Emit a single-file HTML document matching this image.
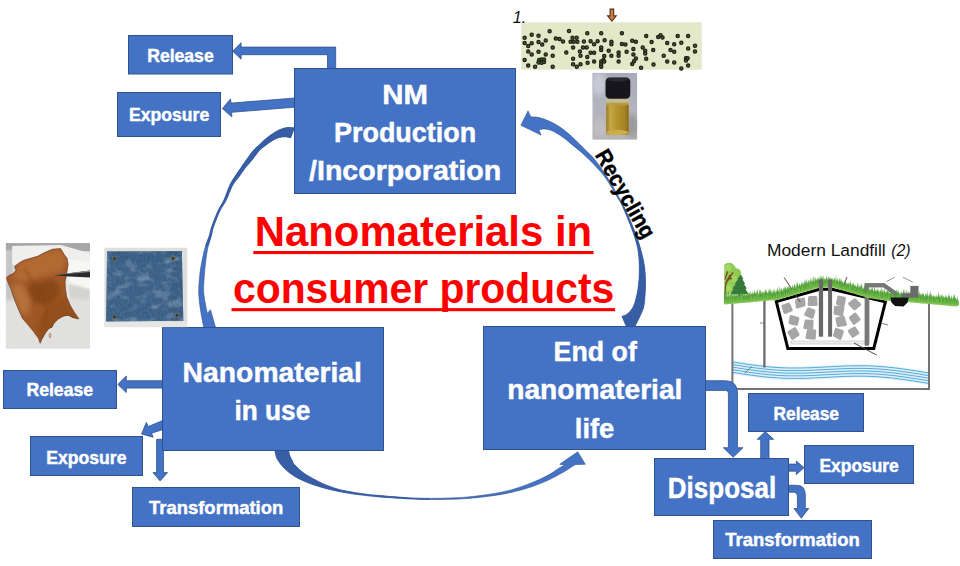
<!DOCTYPE html>
<html><head><meta charset="utf-8"><title>Nanomaterials in consumer products</title>
<style>
html,body{margin:0;padding:0;background:#fff;}
body{width:960px;height:566px;overflow:hidden;font-family:"Liberation Sans",sans-serif;}
svg{display:block;}
text{font-family:"Liberation Sans",sans-serif;}
.w{fill:#fff;font-weight:bold;stroke:#fff;stroke-width:0.45;}
.bx{fill:#4472C4;stroke:#2F528F;stroke-width:1;}
.ar{fill:#4472C4;stroke:#2F528F;stroke-width:0.8;stroke-linejoin:miter;}
</style></head><body>
<svg width="960" height="566" viewBox="0 0 960 566">
<defs>
<filter id="blur0" x="-2%" y="-5%" width="104%" height="110%"><feGaussianBlur stdDeviation="0.35"/></filter>
<filter id="blur1" x="-5%" y="-5%" width="110%" height="110%"><feGaussianBlur stdDeviation="0.6"/></filter>
<filter id="blur2" x="-5%" y="-5%" width="110%" height="110%"><feGaussianBlur stdDeviation="1.2"/></filter>
<filter id="blur3" x="-10%" y="-10%" width="120%" height="120%"><feGaussianBlur stdDeviation="2.5"/></filter>
</defs>
<rect width="960" height="566" fill="#fff"/>

<text x="767" y="255.6" font-size="16.8" fill="#111" textLength="118.7" lengthAdjust="spacingAndGlyphs">Modern Landfill</text>
<text x="891.2" y="255.6" font-size="16.8" font-style="italic" fill="#111" textLength="19.4" lengthAdjust="spacingAndGlyphs">(2)</text>
<g>
<polygon points="733.0,360.5 737.0,361.1 741.0,361.8 745.0,362.4 749.0,363.0 753.0,363.5 757.0,364.0 761.0,364.5 765.0,365.0 769.0,365.4 773.0,365.7 777.0,366.0 781.0,366.2 785.0,366.4 789.0,366.5 793.0,366.5 797.0,366.5 801.0,366.5 805.0,366.4 809.0,366.3 813.0,366.1 817.0,365.9 821.0,365.7 825.0,365.5 829.0,365.3 833.0,365.1 837.0,364.9 841.0,364.7 845.0,364.5 849.0,364.4 853.0,364.3 857.0,364.3 861.0,364.3 865.0,364.3 869.0,364.4 873.0,364.6 877.0,364.8 881.0,365.1 885.0,365.4 889.0,365.8 893.0,366.2 897.0,366.7 901.0,367.2 905.0,367.8 909.0,368.4 913.0,369.0 917.0,369.6 921.0,370.2 925.0,370.9 929.0,371.5 929.0,385.0 925.0,384.4 921.0,383.7 917.0,383.1 913.0,382.5 909.0,381.9 905.0,381.3 901.0,380.7 897.0,380.2 893.0,379.7 889.0,379.3 885.0,378.9 881.0,378.6 877.0,378.3 873.0,378.1 869.0,377.9 865.0,377.8 861.0,377.8 857.0,377.8 853.0,377.8 849.0,377.9 845.0,378.0 841.0,378.2 837.0,378.4 833.0,378.6 829.0,378.8 825.0,379.0 821.0,379.2 817.0,379.4 813.0,379.6 809.0,379.8 805.0,379.9 801.0,380.0 797.0,380.0 793.0,380.0 789.0,380.0 785.0,379.9 781.0,379.7 777.0,379.5 773.0,379.2 769.0,378.9 765.0,378.5 761.0,378.0 757.0,377.5 753.0,377.0 749.0,376.5 745.0,375.9 741.0,375.3 737.0,374.6 733.0,374.0" fill="#DDF0FA"/>
<polyline points="733.0,362.0 737.0,362.6 741.0,363.3 745.0,363.9 749.0,364.5 753.0,365.0 757.0,365.5 761.0,366.0 765.0,366.5 769.0,366.9 773.0,367.2 777.0,367.5 781.0,367.7 785.0,367.9 789.0,368.0 793.0,368.0 797.0,368.0 801.0,368.0 805.0,367.9 809.0,367.8 813.0,367.6 817.0,367.4 821.0,367.2 825.0,367.0 829.0,366.8 833.0,366.6 837.0,366.4 841.0,366.2 845.0,366.0 849.0,365.9 853.0,365.8 857.0,365.8 861.0,365.8 865.0,365.8 869.0,365.9 873.0,366.1 877.0,366.3 881.0,366.6 885.0,366.9 889.0,367.3 893.0,367.7 897.0,368.2 901.0,368.7 905.0,369.3 909.0,369.9 913.0,370.5 917.0,371.1 921.0,371.7 925.0,372.4 929.0,373.0" fill="none" stroke="#58ABDA" stroke-width="1"/>
<polyline points="733.0,364.6 737.0,365.2 741.0,365.9 745.0,366.5 749.0,367.1 753.0,367.6 757.0,368.1 761.0,368.6 765.0,369.1 769.0,369.5 773.0,369.8 777.0,370.1 781.0,370.3 785.0,370.5 789.0,370.6 793.0,370.6 797.0,370.6 801.0,370.6 805.0,370.5 809.0,370.4 813.0,370.2 817.0,370.0 821.0,369.8 825.0,369.6 829.0,369.4 833.0,369.2 837.0,369.0 841.0,368.8 845.0,368.6 849.0,368.5 853.0,368.4 857.0,368.4 861.0,368.4 865.0,368.4 869.0,368.5 873.0,368.7 877.0,368.9 881.0,369.2 885.0,369.5 889.0,369.9 893.0,370.3 897.0,370.8 901.0,371.3 905.0,371.9 909.0,372.5 913.0,373.1 917.0,373.7 921.0,374.3 925.0,375.0 929.0,375.6" fill="none" stroke="#58ABDA" stroke-width="1"/>
<polyline points="733.0,367.2 737.0,367.8 741.0,368.5 745.0,369.1 749.0,369.7 753.0,370.2 757.0,370.7 761.0,371.2 765.0,371.7 769.0,372.1 773.0,372.4 777.0,372.7 781.0,372.9 785.0,373.1 789.0,373.2 793.0,373.2 797.0,373.2 801.0,373.2 805.0,373.1 809.0,373.0 813.0,372.8 817.0,372.6 821.0,372.4 825.0,372.2 829.0,372.0 833.0,371.8 837.0,371.6 841.0,371.4 845.0,371.2 849.0,371.1 853.0,371.0 857.0,371.0 861.0,371.0 865.0,371.0 869.0,371.1 873.0,371.3 877.0,371.5 881.0,371.8 885.0,372.1 889.0,372.5 893.0,372.9 897.0,373.4 901.0,373.9 905.0,374.5 909.0,375.1 913.0,375.7 917.0,376.3 921.0,376.9 925.0,377.6 929.0,378.2" fill="none" stroke="#58ABDA" stroke-width="1"/>
<polyline points="733.0,369.8 737.0,370.4 741.0,371.1 745.0,371.7 749.0,372.3 753.0,372.8 757.0,373.3 761.0,373.8 765.0,374.3 769.0,374.7 773.0,375.0 777.0,375.3 781.0,375.5 785.0,375.7 789.0,375.8 793.0,375.8 797.0,375.8 801.0,375.8 805.0,375.7 809.0,375.6 813.0,375.4 817.0,375.2 821.0,375.0 825.0,374.8 829.0,374.6 833.0,374.4 837.0,374.2 841.0,374.0 845.0,373.8 849.0,373.7 853.0,373.6 857.0,373.6 861.0,373.6 865.0,373.6 869.0,373.7 873.0,373.9 877.0,374.1 881.0,374.4 885.0,374.7 889.0,375.1 893.0,375.5 897.0,376.0 901.0,376.5 905.0,377.1 909.0,377.7 913.0,378.3 917.0,378.9 921.0,379.5 925.0,380.2 929.0,380.8" fill="none" stroke="#58ABDA" stroke-width="1"/>
<polyline points="733.0,372.4 737.0,373.0 741.0,373.7 745.0,374.3 749.0,374.9 753.0,375.4 757.0,375.9 761.0,376.4 765.0,376.9 769.0,377.3 773.0,377.6 777.0,377.9 781.0,378.1 785.0,378.3 789.0,378.4 793.0,378.4 797.0,378.4 801.0,378.4 805.0,378.3 809.0,378.2 813.0,378.0 817.0,377.8 821.0,377.6 825.0,377.4 829.0,377.2 833.0,377.0 837.0,376.8 841.0,376.6 845.0,376.4 849.0,376.3 853.0,376.2 857.0,376.2 861.0,376.2 865.0,376.2 869.0,376.3 873.0,376.5 877.0,376.7 881.0,377.0 885.0,377.3 889.0,377.7 893.0,378.1 897.0,378.6 901.0,379.1 905.0,379.7 909.0,380.3 913.0,380.9 917.0,381.5 921.0,382.1 925.0,382.8 929.0,383.4" fill="none" stroke="#58ABDA" stroke-width="1"/>
<path d="M732.4 301 L732.4 389 L929 389 L929 301.5" fill="none" stroke="#747474" stroke-width="2"/>
<line x1="764.4" y1="299.5" x2="764.4" y2="367.5" stroke="#6A6A6A" stroke-width="2.3"/>
<line x1="760" y1="323" x2="764" y2="323" stroke="#6E6E6E" stroke-width="0.8"/>
<line x1="744.7" y1="373" x2="751.6" y2="366.7" stroke="#555" stroke-width="0.7"/>
<polygon points="776.3,301.6 819.5,289.3 832,289.3 885.4,301.8 873.8,348.4 787.8,348.4" fill="#fff" stroke="#000" stroke-width="3" stroke-linejoin="miter"/>
<path d="M869.5 300 L869.5 343" stroke="#BDBDBD" stroke-width="0.8" fill="none"/>
<rect x="791" y="341" width="78" height="3" fill="#EDEDED" stroke="#BDBDBD" stroke-width="0.6"/>
<polygon points="791.2,309.8 785.0,312.5 782.9,306.2 788.7,304.3" fill="#A6A6A6" stroke="#A6A6A6" stroke-width="3" stroke-linejoin="round"/>
<polygon points="804.0,305.1 797.3,307.1 796.5,300.7 803.6,299.0" fill="#A6A6A6" stroke="#A6A6A6" stroke-width="3" stroke-linejoin="round"/>
<polygon points="816.1,304.6 809.2,304.5 809.6,297.6 815.7,297.4" fill="#A6A6A6" stroke="#A6A6A6" stroke-width="3" stroke-linejoin="round"/>
<polygon points="812.1,317.3 805.6,314.4 808.6,309.0 813.9,311.0" fill="#A6A6A6" stroke="#A6A6A6" stroke-width="3" stroke-linejoin="round"/>
<polygon points="796.4,324.3 790.0,322.8 791.1,316.4 797.9,318.4" fill="#A6A6A6" stroke="#A6A6A6" stroke-width="3" stroke-linejoin="round"/>
<polygon points="811.7,328.6 804.8,327.4 806.1,321.1 812.1,321.3" fill="#A6A6A6" stroke="#A6A6A6" stroke-width="3" stroke-linejoin="round"/>
<polygon points="798.1,334.5 792.6,338.4 789.0,332.3 794.8,328.7" fill="#A6A6A6" stroke="#A6A6A6" stroke-width="3" stroke-linejoin="round"/>
<polygon points="814.2,338.3 807.0,337.5 808.3,330.8 814.8,331.0" fill="#A6A6A6" stroke="#A6A6A6" stroke-width="3" stroke-linejoin="round"/>
<polygon points="843.2,305.3 837.4,303.5 838.8,297.1 844.5,298.2" fill="#A6A6A6" stroke="#A6A6A6" stroke-width="3" stroke-linejoin="round"/>
<polygon points="859.7,304.6 854.4,308.8 849.6,303.7 854.9,299.7" fill="#A6A6A6" stroke="#A6A6A6" stroke-width="3" stroke-linejoin="round"/>
<polygon points="841.7,314.7 835.1,313.3 835.5,307.3 842.9,307.5" fill="#A6A6A6" stroke="#A6A6A6" stroke-width="3" stroke-linejoin="round"/>
<polygon points="859.1,319.4 854.0,323.4 850.4,317.7 855.1,314.2" fill="#A6A6A6" stroke="#A6A6A6" stroke-width="3" stroke-linejoin="round"/>
<polygon points="845.4,324.5 838.3,325.6 836.9,319.0 843.1,317.0" fill="#A6A6A6" stroke="#A6A6A6" stroke-width="3" stroke-linejoin="round"/>
<polygon points="840.1,338.4 834.5,335.5 836.3,329.4 842.3,331.5" fill="#A6A6A6" stroke="#A6A6A6" stroke-width="3" stroke-linejoin="round"/>
<polygon points="857.9,333.0 852.8,336.1 849.3,331.1 854.6,328.0" fill="#A6A6A6" stroke="#A6A6A6" stroke-width="3" stroke-linejoin="round"/>
<path d="M866.8 345.5 L866.8 285.2 L883.8 285.2 L895.5 293.5 L895.5 297.5" fill="none" stroke="#777" stroke-width="4" stroke-linejoin="miter"/>
<line x1="784.2" y1="277.7" x2="800.3" y2="302" stroke="#444" stroke-width="0.6"/>
<line x1="847" y1="277" x2="842" y2="290" stroke="#444" stroke-width="0.6"/>
<line x1="854" y1="343" x2="876.5" y2="355" stroke="#444" stroke-width="0.6"/>
<line x1="881" y1="323" x2="888" y2="325" stroke="#777" stroke-width="0.6"/>
<clipPath id="cg"><rect x="724.3" y="255" width="233.2" height="60"/></clipPath>
<g clip-path="url(#cg)">
<g fill="#8FCB55"><circle cx="729" cy="270" r="7.2"/><circle cx="726" cy="279" r="6"/><circle cx="735.5" cy="273.5" r="5.6"/><circle cx="731" cy="284" r="6.5"/><circle cx="736.5" cy="281" r="4.8"/><circle cx="727" cy="290" r="5"/><circle cx="734" cy="290" r="4"/></g>
<g fill="#A5D96A" opacity="0.8"><circle cx="728" cy="268" r="3.5"/><circle cx="734" cy="279" r="3"/><circle cx="729" cy="288" r="3"/></g>
<path d="M724.6 301 L725.3 286 Q726.5 280 730 275.5 M725.8 283.5 L732.6 272.8 M727.8 279 L731.5 278.5 M725 279 L727.5 272" stroke="#7A4E22" stroke-width="1.4" fill="none" stroke-linecap="round"/>
<rect x="738.2" y="293" width="2" height="8" fill="#6B3F1C"/>
<polygon points="740.9,274.6 743.4,279 742.3,279.2 745.2,283.8 743.9,284 747,288.6 745.5,288.8 748.4,294.2 730.4,294.4 733.6,288.8 732.4,288.6 735.8,284 734.8,283.8 738,279.2 737.2,279" fill="#357A38"/>
<path d="M720.0 299.2 L721.3 294.6 L722.3 299.2 L723.1 296.4 L724.6 299.2 L725.6 295.7 L726.9 299.0 L728.5 296.1 L729.2 298.8 L730.3 293.7 L731.5 298.6 L732.1 294.8 L733.8 298.4 L734.7 295.5 L736.1 298.2 L737.7 294.9 L738.4 298.0 L738.9 295.0 L740.7 297.8 L741.9 292.8 L743.0 297.6 L744.2 294.6 L745.3 297.4 L746.5 294.7 L747.6 297.2 L749.3 292.2 L749.9 297.0 L750.7 292.7 L752.2 296.8 L752.9 293.3 L754.5 296.6 L755.7 292.1 L756.8 296.4 L757.7 291.9 L759.1 296.2 L760.7 293.0 L761.4 296.0 L763.0 290.9 L763.7 295.8 L765.3 291.2 L766.0 295.6 L766.8 291.1 L768.3 295.3 L769.2 291.5 L770.6 295.1 L771.1 292.5 L772.9 294.9 L773.7 291.7 L775.2 294.7 L777.0 290.5 L777.5 294.5 L779.3 290.7 L779.8 294.0 L781.6 288.7 L782.1 293.3 L782.9 289.5 L784.4 292.6 L785.1 289.2 L786.7 291.9 L788.0 288.6 L789.0 291.2 L790.6 286.1 L791.3 290.5 L792.7 286.5 L793.6 289.8 L794.2 285.0 L795.9 289.1 L797.6 284.7 L798.2 288.4 L799.7 283.7 L800.5 287.7 L801.2 283.7 L802.8 287.0 L803.7 282.3 L805.1 286.3 L806.9 281.5 L807.4 285.6 L808.4 281.8 L809.7 285.0 L811.2 279.8 L812.0 284.3 L812.6 281.0 L814.3 283.6 L816.0 280.4 L816.6 282.9 L817.3 278.1 L818.9 282.2 L820.7 277.5 L821.2 282.0 L822.1 277.9 L823.5 282.0 L824.1 278.2 L825.8 282.0 L827.6 279.5 L828.1 282.0 L829.3 277.9 L830.4 282.0 L831.5 277.2 L832.7 282.2 L834.3 277.9 L835.0 282.9 L835.8 280.2 L837.3 283.5 L838.1 280.7 L839.6 284.2 L840.4 280.6 L841.9 284.8 L842.5 281.7 L844.2 285.5 L845.1 281.1 L846.5 286.2 L847.8 282.9 L848.8 286.8 L849.8 282.4 L851.1 287.5 L852.3 283.1 L853.4 288.1 L854.6 284.7 L855.7 288.8 L856.8 286.6 L858.0 289.5 L858.5 286.9 L860.3 290.1 L861.0 286.0 L862.6 290.8 L864.1 287.5 L864.9 291.4 L865.8 287.9 L867.2 292.1 L868.4 288.7 L869.5 292.8 L870.1 288.6 L871.8 293.2 L872.6 289.5 L874.1 293.5 L875.6 290.5 L876.4 293.8 L877.6 290.3 L878.7 294.2 L880.4 290.0 L881.0 294.5 L882.3 291.1 L883.3 294.8 L884.5 291.3 L885.6 295.2 L886.7 291.1 L887.9 295.5 L889.0 291.9 L890.2 295.8 L891.6 291.1 L892.5 295.9 L894.3 291.4 L894.8 296.1 L896.0 293.0 L897.1 296.2 L898.7 291.4 L899.4 296.3 L900.0 293.6 L901.7 296.4 L902.3 292.9 L904.0 296.6 L904.6 293.6 L906.3 296.7 L907.8 292.6 L908.6 296.9 L909.3 292.3 L910.9 297.1 L912.3 292.9 L913.2 297.3 L914.9 294.5 L915.5 297.5 L916.3 292.7 L917.8 297.7 L918.8 293.0 L920.1 297.9 L921.9 294.3 L922.4 298.1 L923.1 293.7 L924.7 298.3 L925.9 294.9 L927.0 298.5 L927.7 295.3 L929.3 298.7 L930.8 295.6 L931.6 298.9 L932.8 296.5 L933.9 299.1 L934.4 295.7 L936.2 299.3 L937.5 296.1 L938.5 299.5 L939.0 295.9 L940.8 299.7 L942.4 294.9 L943.1 300.0 L943.7 295.2 L945.4 300.2 L945.9 297.1 L947.7 300.4 L948.5 296.1 L950.0 300.6 L951.0 297.9 L952.3 300.8 L953.9 296.2 L954.6 301.0 L955.3 298.0 L956.9 301.2 L958.1 296.5 L959.2 301.4 L959.8 297.3 L961.5 301.6 L960.0 304.9 L956.0 304.5 L952.0 304.2 L948.0 303.8 L944.0 303.4 L940.0 303.1 L936.0 302.7 L932.0 302.4 L928.0 302.0 L924.0 301.6 L920.0 301.3 L916.0 300.9 L912.0 300.6 L908.0 300.2 L904.0 300.0 L900.0 299.8 L896.0 299.5 L892.0 299.3 L888.0 298.9 L884.0 298.3 L880.0 297.8 L876.0 297.2 L872.0 296.6 L868.0 295.7 L864.0 294.6 L860.0 293.4 L856.0 292.3 L852.0 291.1 L848.0 290.0 L844.0 288.8 L840.0 287.7 L836.0 286.5 L832.0 285.4 L828.0 285.4 L824.0 285.4 L820.0 285.4 L816.0 286.5 L812.0 287.7 L808.0 288.9 L804.0 290.1 L800.0 291.3 L796.0 292.5 L792.0 293.7 L788.0 294.9 L784.0 296.1 L780.0 297.3 L776.0 298.1 L772.0 298.4 L768.0 298.8 L764.0 299.1 L760.0 299.5 L756.0 299.8 L752.0 300.2 L748.0 300.5 L744.0 300.9 L740.0 301.2 L736.0 301.6 L732.0 301.9 L728.0 302.3 L724.0 302.6 L720.0 302.6 Z" fill="#79BD4B"/>
<path d="M720.0 299.4 L721.1 294.9 L721.6 299.4 L721.8 293.3 L723.2 299.4 L724.2 291.1 L724.8 299.4 L725.0 291.6 L726.4 299.2 L726.6 291.2 L728.0 299.1 L728.7 291.0 L729.6 298.9 L730.5 293.1 L731.2 298.8 L731.7 290.5 L732.8 298.7 L733.6 293.7 L734.4 298.5 L734.7 293.1 L736.0 298.4 L736.2 293.3 L737.6 298.2 L738.1 293.0 L739.2 298.1 L740.4 292.4 L740.8 298.0 L741.6 292.4 L742.4 297.8 L743.0 292.7 L744.0 297.7 L744.5 293.2 L745.6 297.5 L746.7 293.1 L747.2 297.4 L747.6 290.7 L748.8 297.3 L750.2 290.9 L750.4 297.1 L751.6 292.3 L752.0 297.0 L752.8 290.8 L753.6 296.8 L754.3 288.9 L755.2 296.7 L756.3 290.2 L756.8 296.6 L757.4 288.0 L758.4 296.4 L759.5 288.5 L760.0 296.3 L760.7 289.2 L761.6 296.1 L761.8 290.3 L763.2 296.0 L763.4 291.1 L764.8 295.9 L765.3 288.3 L766.4 295.7 L766.6 290.7 L768.0 295.6 L769.3 287.6 L769.6 295.4 L770.1 288.2 L771.2 295.3 L771.7 289.9 L772.8 295.2 L773.1 288.8 L774.4 295.0 L774.9 288.7 L776.0 294.9 L777.5 286.4 L777.6 294.7 L778.0 287.9 L779.2 294.3 L779.7 285.7 L780.8 293.9 L780.9 287.8 L782.4 293.4 L783.2 287.2 L784.0 292.9 L784.4 286.2 L785.6 292.4 L785.7 285.7 L787.2 291.9 L787.4 286.3 L788.8 291.4 L789.0 285.2 L790.4 291.0 L790.9 286.3 L792.0 290.5 L792.9 285.0 L793.6 290.0 L794.8 283.2 L795.2 289.5 L796.3 282.2 L796.8 289.0 L797.4 280.7 L798.4 288.6 L799.9 282.6 L800.0 288.1 L801.1 282.9 L801.6 287.6 L801.8 280.3 L803.2 287.1 L804.5 279.0 L804.8 286.6 L805.9 279.4 L806.4 286.1 L806.7 278.1 L808.0 285.7 L808.8 278.9 L809.6 285.2 L810.8 277.1 L811.2 284.7 L812.1 276.6 L812.8 284.2 L813.9 275.9 L814.4 283.7 L814.8 276.2 L816.0 283.3 L816.3 278.6 L817.6 282.8 L817.8 276.7 L819.2 282.3 L820.1 274.3 L820.8 282.2 L821.8 275.2 L822.4 282.2 L823.2 275.0 L824.0 282.2 L825.2 277.9 L825.6 282.2 L826.4 274.7 L827.2 282.2 L828.2 275.6 L828.8 282.2 L829.9 277.6 L830.4 282.2 L830.6 276.8 L832.0 282.2 L833.1 277.0 L833.6 282.7 L834.7 277.7 L835.2 283.1 L836.0 274.9 L836.8 283.6 L837.6 277.9 L838.4 284.0 L839.6 277.0 L840.0 284.5 L841.0 277.8 L841.6 285.0 L841.9 280.6 L843.2 285.4 L844.3 280.3 L844.8 285.9 L845.7 280.5 L846.4 286.3 L846.6 282.2 L848.0 286.8 L849.0 281.6 L849.6 287.2 L850.6 280.2 L851.2 287.7 L852.0 282.4 L852.8 288.2 L853.6 282.1 L854.4 288.6 L855.8 284.1 L856.0 289.1 L857.5 284.2 L857.6 289.5 L857.7 281.5 L859.2 290.0 L860.4 284.0 L860.8 290.5 L861.5 282.2 L862.4 290.9 L862.8 285.7 L864.0 291.4 L864.4 283.3 L865.6 291.8 L865.9 285.3 L867.2 292.3 L868.6 286.0 L868.8 292.8 L870.0 288.1 L870.4 293.2 L871.7 286.8 L872.0 293.4 L872.4 286.2 L873.6 293.6 L874.4 285.6 L875.2 293.9 L875.3 289.6 L876.8 294.1 L877.5 287.8 L878.4 294.3 L878.7 288.8 L880.0 294.6 L880.5 288.9 L881.6 294.8 L881.7 287.0 L883.2 295.0 L884.5 287.6 L884.8 295.2 L886.2 290.6 L886.4 295.5 L887.8 288.2 L888.0 295.7 L888.6 290.3 L889.6 295.9 L891.1 290.0 L891.2 296.1 L891.8 289.3 L892.8 296.2 L893.3 290.1 L894.4 296.2 L894.6 291.8 L896.0 296.3 L896.5 288.5 L897.6 296.4 L898.0 288.2 L899.2 296.5 L900.0 291.1 L900.8 296.6 L901.4 291.5 L902.4 296.7 L903.7 288.3 L904.0 296.8 L905.0 289.0 L905.6 296.9 L907.0 288.7 L907.2 297.0 L908.3 290.4 L908.8 297.1 L909.9 292.6 L910.4 297.2 L911.6 291.1 L912.0 297.4 L912.5 290.4 L913.6 297.5 L915.0 293.1 L915.2 297.6 L916.0 292.9 L916.8 297.8 L917.3 292.1 L918.4 297.9 L919.9 290.5 L920.0 298.1 L921.0 292.7 L921.6 298.2 L922.5 292.7 L923.2 298.4 L923.5 292.5 L924.8 298.5 L925.2 293.6 L926.4 298.7 L927.2 290.5 L928.0 298.8 L929.4 293.6 L929.6 298.9 L930.3 290.4 L931.2 299.1 L931.6 294.3 L932.8 299.2 L933.4 294.6 L934.4 299.4 L934.8 294.8 L936.0 299.5 L936.9 294.2 L937.6 299.7 L938.7 291.6 L939.2 299.8 L939.9 293.8 L940.8 299.9 L941.4 293.5 L942.4 300.1 L942.6 294.4 L944.0 300.2 L945.5 294.8 L945.6 300.4 L946.4 295.6 L947.2 300.5 L948.5 293.6 L948.8 300.7 L949.3 295.5 L950.4 300.8 L951.1 295.5 L952.0 301.0 L953.4 294.8 L953.6 301.1 L954.9 293.2 L955.2 301.2 L955.3 296.9 L956.8 301.4 L958.2 294.1 L958.4 301.5 L959.3 295.3 L960.0 301.7 L960.0 302.6 L956.0 302.2 L952.0 301.9 L948.0 301.5 L944.0 301.1 L940.0 300.8 L936.0 300.4 L932.0 300.1 L928.0 299.7 L924.0 299.3 L920.0 299.0 L916.0 298.6 L912.0 298.3 L908.0 297.9 L904.0 297.7 L900.0 297.5 L896.0 297.2 L892.0 297.0 L888.0 296.6 L884.0 296.0 L880.0 295.4 L876.0 294.9 L872.0 294.3 L868.0 293.4 L864.0 292.3 L860.0 291.1 L856.0 290.0 L852.0 288.8 L848.0 287.7 L844.0 286.5 L840.0 285.4 L836.0 284.2 L832.0 283.1 L828.0 283.1 L824.0 283.1 L820.0 283.1 L816.0 284.2 L812.0 285.4 L808.0 286.6 L804.0 287.8 L800.0 289.0 L796.0 290.2 L792.0 291.4 L788.0 292.6 L784.0 293.8 L780.0 295.0 L776.0 295.8 L772.0 296.1 L768.0 296.5 L764.0 296.8 L760.0 297.2 L756.0 297.5 L752.0 297.9 L748.0 298.2 L744.0 298.6 L740.0 298.9 L736.0 299.3 L732.0 299.6 L728.0 300.0 L724.0 300.3 L720.0 300.3 Z" fill="#4C9C33"/>
<path d="M720.0 299.8 L720.8 297.3 L721.9 299.8 L723.3 295.0 L723.8 299.8 L725.4 295.2 L725.7 299.7 L726.1 296.5 L727.6 299.5 L728.6 296.6 L729.5 299.3 L731.1 295.1 L731.4 299.2 L732.6 294.8 L733.3 299.0 L734.2 294.6 L735.2 298.8 L735.5 294.9 L737.1 298.7 L737.7 294.2 L739.0 298.5 L740.2 293.7 L740.9 298.3 L741.3 295.0 L742.8 298.2 L743.9 295.0 L744.7 298.0 L745.1 293.7 L746.6 297.8 L747.6 295.1 L748.5 297.7 L749.3 293.7 L750.4 297.5 L751.5 294.4 L752.3 297.3 L753.0 294.8 L754.2 297.2 L755.8 293.5 L756.1 297.0 L757.6 292.9 L758.0 296.9 L758.6 293.1 L759.9 296.7 L761.5 293.5 L761.8 296.5 L762.5 292.2 L763.7 296.4 L764.6 293.7 L765.6 296.2 L766.4 292.0 L767.5 296.0 L768.7 292.8 L769.4 295.9 L770.0 291.0 L771.3 295.7 L772.0 293.0 L773.2 295.5 L774.4 291.9 L775.1 295.4 L776.5 292.3 L777.0 295.2 L778.0 290.8 L778.9 294.8 L780.5 291.6 L780.8 294.3 L782.2 290.7 L782.7 293.7 L783.3 290.4 L784.6 293.1 L785.3 288.5 L786.5 292.5 L787.4 287.4 L788.4 292.0 L789.0 288.7 L790.3 291.4 L791.5 287.6 L792.2 290.8 L792.7 285.7 L794.1 290.3 L794.6 286.5 L796.0 289.7 L796.4 284.5 L797.9 289.1 L798.2 286.2 L799.8 288.5 L801.3 284.8 L801.7 288.0 L803.0 283.0 L803.6 287.4 L805.2 282.2 L805.5 286.8 L806.0 283.2 L807.4 286.2 L808.7 281.2 L809.3 285.7 L810.5 282.8 L811.2 285.1 L812.0 281.4 L813.1 284.5 L813.6 280.9 L815.0 284.0 L815.6 281.2 L816.9 283.4 L818.5 279.8 L818.8 282.8 L820.4 279.8 L820.7 282.6 L821.4 279.6 L822.6 282.6 L824.0 278.1 L824.5 282.6 L824.8 279.1 L826.4 282.6 L827.2 279.0 L828.3 282.6 L828.8 277.8 L830.2 282.6 L831.7 279.2 L832.1 282.6 L832.9 280.4 L834.0 283.2 L835.3 279.0 L835.9 283.7 L836.2 281.4 L837.8 284.3 L839.3 281.9 L839.7 284.8 L841.0 282.0 L841.6 285.4 L842.3 280.9 L843.5 285.9 L845.1 283.0 L845.4 286.4 L846.0 282.7 L847.3 287.0 L848.0 283.0 L849.2 287.5 L849.5 284.6 L851.1 288.1 L852.6 284.0 L853.0 288.6 L854.6 284.9 L854.9 289.2 L855.5 286.9 L856.8 289.7 L858.4 286.3 L858.7 290.3 L859.5 285.7 L860.6 290.8 L861.5 288.0 L862.5 291.3 L864.0 287.9 L864.4 291.9 L865.8 289.2 L866.3 292.4 L867.7 288.4 L868.2 293.0 L869.3 288.9 L870.1 293.5 L870.8 290.4 L872.0 293.8 L873.3 290.6 L873.9 294.1 L874.4 291.5 L875.8 294.3 L876.4 290.1 L877.7 294.6 L878.0 292.1 L879.6 294.9 L880.3 291.2 L881.5 295.2 L883.0 290.4 L883.4 295.4 L884.0 290.7 L885.3 295.7 L885.7 293.2 L887.2 296.0 L888.4 292.4 L889.1 296.3 L889.7 292.8 L891.0 296.5 L892.1 293.0 L892.9 296.6 L894.2 292.5 L894.8 296.7 L896.0 292.1 L896.7 296.8 L898.1 294.1 L898.6 296.9 L899.6 293.7 L900.5 297.0 L901.8 293.6 L902.4 297.1 L903.0 294.2 L904.3 297.2 L904.8 294.2 L906.2 297.3 L907.3 292.7 L908.1 297.4 L908.9 294.2 L910.0 297.6 L911.0 292.7 L911.9 297.8 L913.3 294.8 L913.8 297.9 L915.4 293.9 L915.7 298.1 L916.6 295.4 L917.6 298.3 L919.0 293.8 L919.5 298.4 L919.8 293.8 L921.4 298.6 L921.8 295.5 L923.3 298.8 L924.9 295.9 L925.2 298.9 L926.8 295.1 L927.1 299.1 L928.6 295.8 L929.0 299.3 L929.6 295.8 L930.9 299.5 L932.5 295.1 L932.8 299.6 L933.9 297.0 L934.7 299.8 L935.3 295.9 L936.6 300.0 L937.0 296.7 L938.5 300.1 L939.1 297.2 L940.4 300.3 L941.6 296.4 L942.3 300.5 L942.6 297.6 L944.2 300.7 L945.4 297.5 L946.1 300.8 L946.8 298.0 L948.0 301.0 L949.4 298.1 L949.9 301.2 L950.2 297.4 L951.8 301.3 L952.6 298.7 L953.7 301.5 L954.8 297.8 L955.6 301.7 L956.1 299.1 L957.5 301.8 L958.3 297.7 L959.4 302.0 L960.1 298.9 L961.3 302.2 L960.0 303.6 L956.0 303.2 L952.0 302.9 L948.0 302.5 L944.0 302.1 L940.0 301.8 L936.0 301.4 L932.0 301.1 L928.0 300.7 L924.0 300.3 L920.0 300.0 L916.0 299.6 L912.0 299.3 L908.0 298.9 L904.0 298.7 L900.0 298.5 L896.0 298.2 L892.0 298.0 L888.0 297.6 L884.0 297.0 L880.0 296.5 L876.0 295.9 L872.0 295.3 L868.0 294.4 L864.0 293.3 L860.0 292.1 L856.0 291.0 L852.0 289.8 L848.0 288.7 L844.0 287.5 L840.0 286.4 L836.0 285.2 L832.0 284.1 L828.0 284.1 L824.0 284.1 L820.0 284.1 L816.0 285.2 L812.0 286.4 L808.0 287.6 L804.0 288.8 L800.0 290.0 L796.0 291.2 L792.0 292.4 L788.0 293.6 L784.0 294.8 L780.0 296.0 L776.0 296.8 L772.0 297.1 L768.0 297.5 L764.0 297.8 L760.0 298.2 L756.0 298.5 L752.0 298.9 L748.0 299.2 L744.0 299.6 L740.0 299.9 L736.0 300.3 L732.0 300.6 L728.0 301.0 L724.0 301.3 L720.0 301.3 Z" fill="#6FB645" opacity="0.9"/>
</g>
<path d="M866.8 345.5 L866.8 285.2 L883.8 285.2 L895.5 293.5 L895.5 297.5" fill="none" stroke="#777" stroke-width="4" stroke-linejoin="miter"/>
<line x1="784.2" y1="277.7" x2="800.3" y2="302" stroke="#444" stroke-width="0.6"/>
<line x1="847" y1="277" x2="842" y2="290" stroke="#444" stroke-width="0.6"/>
<line x1="854" y1="343" x2="876.5" y2="355" stroke="#444" stroke-width="0.6"/>
<line x1="881" y1="323" x2="888" y2="325" stroke="#777" stroke-width="0.6"/>
<path d="M724.5 302.4 L725.4 296.4 L726.8 302.2 L727.8 297.3 L729.1 302.0 L730.8 297.6 L731.4 301.8 L732.4 295.6 L733.7 301.6 L735.2 297.9 L736.0 301.4 L736.5 297.6 L738.3 301.2 L739.3 295.3 L740.6 301.0 L741.6 295.4 L742.9 300.8 L744.0 295.0 L745.2 300.6 L745.7 297.0 L747.5 300.4 L748.8 295.6 L749.8 300.2 L750.4 294.3 L752.1 300.0 L753.1 295.0 L754.4 299.8 L755.1 295.1 L756.7 299.6 L757.9 295.6 L759.0 299.4 L759.6 293.4 L761.3 299.2 L762.9 294.6 L763.6 299.0 L764.3 292.9 L765.9 298.8 L767.7 295.3 L768.2 298.6 L769.3 292.5 L770.5 298.4 L772.2 295.1 L772.8 298.2 L774.5 293.9 L775.1 298.0 L776.7 293.0 L777.4 297.8 L779.0 294.0 L779.7 297.2 L780.7 293.1 L782.0 296.5 L783.6 290.6 L784.3 295.8 L785.1 291.9 L786.6 295.1 L787.8 290.5 L788.9 294.4 L789.5 289.9 L791.2 293.7 L792.7 289.6 L793.5 293.0 L794.0 286.9 L795.8 292.3 L797.3 287.3 L798.1 291.6 L799.7 288.2 L800.4 291.0 L801.7 287.2 L802.7 290.3 L804.0 285.2 L805.0 289.6 L806.0 285.3 L807.3 288.9 L808.3 283.7 L809.6 288.2 L810.7 282.8 L811.9 287.5 L812.4 282.8 L814.2 286.8 L815.3 281.6 L816.5 286.1 L818.0 282.0 L818.8 285.4 L819.9 279.8 L821.1 285.2 L822.2 281.6 L823.4 285.2 L824.0 281.9 L825.7 285.2 L826.3 280.9 L828.0 285.2 L829.2 280.8 L830.3 285.2 L831.6 282.1 L832.6 285.4 L834.1 282.4 L834.9 286.0 L836.1 281.0 L837.2 286.7 L838.4 283.8 L839.5 287.4 L841.3 283.5 L841.8 288.0 L843.4 284.9 L844.1 288.7 L845.6 283.0 L846.4 289.3 L847.1 284.2 L848.7 290.0 L849.8 284.3 L851.0 290.6 L852.7 285.1 L853.3 291.3 L854.9 288.1 L855.6 292.0 L856.1 286.5 L857.9 292.6 L859.4 288.9 L860.2 293.3 L861.9 290.1 L862.5 293.9 L864.1 290.4 L864.8 294.6 L866.0 291.5 L867.1 295.3 L867.8 289.8 L869.4 295.9 L870.6 292.4 L871.7 296.3 L872.2 292.5 L874.0 296.7 L874.7 293.3 L876.3 297.0 L877.7 291.3 L878.6 297.3 L879.3 291.8 L880.9 297.7 L881.5 292.4 L883.2 298.0 L884.5 293.6 L885.5 298.3 L887.2 294.4 L887.8 298.7 L889.1 294.1 L890.1 299.0 L890.7 293.4 L892.4 299.1 L893.7 293.2 L894.7 299.3 L896.3 295.1 L897.0 299.4 L898.8 295.6 L899.3 299.5 L900.3 294.8 L901.6 299.6 L902.7 294.4 L903.9 299.8 L905.4 296.3 L906.2 299.9 L907.8 296.8 L908.5 300.0 L909.8 296.4 L910.8 300.3 L912.1 294.4 L913.1 300.5 L914.0 295.5 L915.4 300.7 L915.9 297.7 L917.7 300.9 L919.0 297.5 L920.0 301.1 L921.2 296.8 L922.3 301.3 L922.9 295.7 L924.6 301.5 L926.0 297.9 L926.9 301.7 L927.4 298.7 L929.2 301.9 L929.8 297.9 L931.5 302.1 L932.3 298.1 L933.8 302.3 L935.1 297.6 L936.1 302.5 L937.4 299.0 L938.4 302.7 L939.0 298.4 L940.7 302.9 L941.5 297.2 L943.0 303.1 L943.6 299.8 L945.3 303.3 L947.0 298.5 L947.6 303.6 L948.6 298.3 L949.9 303.8 L950.4 300.0 L952.2 304.0 L953.4 299.1 L954.5 304.2 L955.9 300.2 L956.8 304.4 L958.6 300.1 L959.1 304.6 L957.5 306.6 L953.5 306.3 L949.5 305.9 L945.5 305.6 L941.5 305.2 L937.5 304.8 L933.5 304.5 L929.5 304.1 L925.5 303.8 L921.5 303.4 L917.5 303.1 L913.5 302.7 L909.5 302.3 L905.5 302.1 L901.5 301.8 L897.5 301.6 L893.5 301.4 L889.5 301.1 L885.5 300.5 L881.5 300.0 L877.5 299.4 L873.5 298.8 L869.5 298.2 L865.5 297.0 L861.5 295.9 L857.5 294.7 L853.5 293.6 L849.5 292.4 L845.5 291.3 L841.5 290.1 L837.5 289.0 L833.5 287.8 L829.5 287.4 L825.5 287.4 L821.5 287.4 L817.5 288.0 L813.5 289.2 L809.5 290.4 L805.5 291.6 L801.5 292.8 L797.5 294.0 L793.5 295.2 L789.5 296.4 L785.5 297.6 L781.5 298.8 L777.5 299.9 L773.5 300.3 L769.5 300.6 L765.5 301.0 L761.5 301.3 L757.5 301.7 L753.5 302.0 L749.5 302.4 L745.5 302.7 L741.5 303.1 L737.5 303.4 L733.5 303.8 L729.5 304.1 L725.5 304.5 L724.5 304.6 Z" fill="#8CCB5E"/>
<path d="M724.5 302.1 L724.8 293.4 L725.8 302.0 L725.8 292.5 L727.1 301.9 L727.6 294.2 L728.4 301.7 L728.4 295.6 L729.7 301.6 L729.7 292.8 L731.0 301.5 L732.3 293.8 L732.3 301.4 L732.5 295.7 L733.6 301.3 L734.3 293.3 L734.9 301.2 L736.0 293.0 L736.2 301.1 L736.6 295.2 L737.5 300.9 L737.5 294.5 L738.8 300.8 L739.8 291.4 L740.1 300.7 L740.1 292.2 L741.4 300.6 L742.4 291.4 L742.7 300.5 L743.7 293.2 L744.0 300.4 L744.3 293.1 L745.3 300.3 L745.6 294.7 L746.6 300.1 L747.0 294.9 L747.9 300.0 L748.8 291.3 L749.2 299.9 L750.1 290.7 L750.5 299.8 L751.2 293.5 L751.8 299.7 L752.9 292.5 L753.1 299.6 L753.4 292.0 L754.4 299.5 L755.7 291.3 L755.7 299.4 L756.9 293.3 L757.0 299.2 L757.3 294.2 L758.3 299.1 L759.3 292.9 L759.6 299.0 L760.6 289.3 L760.9 298.9 L762.1 292.3 L762.2 298.8 L762.5 292.1 L763.5 298.7 L764.3 289.2 L764.8 298.6 L765.7 290.1 L766.1 298.4 L766.7 288.6 L767.4 298.3 L768.3 289.2 L768.7 298.2 L769.3 289.0 L770.0 298.1 L770.7 289.5 L771.3 298.0 L771.5 291.5 L772.6 297.9 L772.7 289.8 L773.9 297.8 L774.1 288.2 L775.2 297.6 L775.3 292.5 L776.5 297.5 L776.9 287.9 L777.8 297.4 L777.8 291.6 L779.1 297.1 L780.0 291.7 L780.4 296.7 L781.3 288.4 L781.7 296.3 L781.7 287.5 L783.0 295.9 L783.5 287.8 L784.3 295.5 L785.4 286.3 L785.6 295.1 L785.6 285.6 L786.9 294.7 L788.1 285.3 L788.2 294.3 L788.3 284.5 L789.5 293.9 L789.6 287.8 L790.8 293.5 L791.9 288.2 L792.1 293.2 L792.9 284.0 L793.4 292.8 L794.2 283.5 L794.7 292.4 L794.8 285.8 L796.0 292.0 L797.0 286.3 L797.3 291.6 L797.7 285.4 L798.6 291.2 L798.6 284.0 L799.9 290.8 L800.2 284.4 L801.2 290.4 L801.7 281.7 L802.5 290.0 L803.8 283.3 L803.8 289.6 L804.9 282.0 L805.1 289.2 L805.1 281.0 L806.4 288.8 L807.0 281.7 L807.7 288.5 L808.1 279.5 L809.0 288.1 L809.7 279.4 L810.3 287.7 L811.5 281.5 L811.6 287.3 L812.7 281.7 L812.9 286.9 L812.9 280.9 L814.2 286.5 L815.2 280.4 L815.5 286.1 L815.5 276.1 L816.8 285.7 L817.4 278.1 L818.1 285.3 L818.3 276.2 L819.4 284.9 L819.8 277.5 L820.7 284.9 L821.0 275.8 L822.0 284.9 L822.3 275.3 L823.3 284.9 L824.2 278.9 L824.6 284.9 L824.7 277.5 L825.9 284.9 L826.0 276.8 L827.2 284.9 L828.1 276.0 L828.5 284.9 L829.3 276.1 L829.8 284.9 L830.3 278.2 L831.1 284.9 L832.3 278.0 L832.4 285.0 L833.6 279.8 L833.7 285.4 L833.9 280.5 L835.0 285.8 L836.2 279.7 L836.3 286.1 L836.8 278.9 L837.6 286.5 L837.9 277.4 L838.9 286.9 L839.6 279.8 L840.2 287.3 L841.2 278.8 L841.5 287.6 L841.9 279.7 L842.8 288.0 L843.0 281.6 L844.1 288.4 L845.0 279.4 L845.4 288.7 L845.6 280.3 L846.7 289.1 L847.7 282.2 L848.0 289.5 L848.1 281.9 L849.3 289.9 L850.5 282.8 L850.6 290.2 L850.8 284.3 L851.9 290.6 L852.8 284.4 L853.2 291.0 L853.4 282.0 L854.5 291.4 L854.8 285.8 L855.8 291.7 L856.5 285.3 L857.1 292.1 L857.5 286.5 L858.4 292.5 L859.7 286.8 L859.7 292.8 L859.8 284.5 L861.0 293.2 L861.1 283.7 L862.3 293.6 L863.6 286.9 L863.6 294.0 L864.6 285.3 L864.9 294.3 L865.1 287.4 L866.2 294.7 L866.3 286.8 L867.5 295.1 L868.0 289.3 L868.8 295.5 L869.3 290.5 L870.1 295.8 L871.0 287.0 L871.4 296.0 L872.2 288.7 L872.7 296.2 L872.8 289.0 L874.0 296.4 L874.5 288.5 L875.3 296.6 L876.5 288.0 L876.6 296.8 L877.4 289.8 L877.9 296.9 L878.4 288.4 L879.2 297.1 L880.2 291.1 L880.5 297.3 L881.5 288.1 L881.8 297.5 L882.9 289.2 L883.1 297.7 L883.9 289.5 L884.4 297.9 L884.8 290.8 L885.7 298.1 L885.8 290.1 L887.0 298.3 L888.0 291.3 L888.3 298.5 L889.1 290.1 L889.6 298.6 L890.1 292.5 L890.9 298.7 L891.7 291.6 L892.2 298.8 L893.1 291.9 L893.5 298.9 L893.7 289.4 L894.8 299.0 L895.8 290.8 L896.1 299.0 L896.7 292.2 L897.4 299.1 L897.4 289.4 L898.7 299.2 L898.9 291.6 L900.0 299.3 L901.3 290.5 L901.3 299.3 L901.4 291.8 L902.6 299.4 L903.3 291.6 L903.9 299.5 L904.6 291.0 L905.2 299.5 L906.3 291.5 L906.5 299.6 L907.0 292.1 L907.8 299.7 L908.0 290.1 L909.1 299.8 L909.6 291.5 L910.4 299.9 L910.5 291.2 L911.7 300.0 L912.1 290.3 L913.0 300.1 L913.3 295.0 L914.3 300.3 L914.3 293.4 L915.6 300.4 L916.1 293.4 L916.9 300.5 L917.3 292.2 L918.2 300.6 L918.5 294.4 L919.5 300.7 L920.8 292.2 L920.8 300.8 L921.1 293.3 L922.1 301.0 L922.6 292.1 L923.4 301.1 L923.5 295.1 L924.7 301.2 L925.8 292.5 L926.0 301.3 L926.6 293.3 L927.3 301.4 L927.6 293.8 L928.6 301.5 L929.0 291.9 L929.9 301.7 L931.0 293.6 L931.2 301.8 L931.8 292.9 L932.5 301.9 L933.2 295.6 L933.8 302.0 L934.9 296.5 L935.1 302.1 L936.2 295.5 L936.4 302.3 L936.9 296.0 L937.7 302.4 L938.2 296.2 L939.0 302.5 L939.0 296.7 L940.3 302.6 L940.6 294.1 L941.6 302.7 L942.0 296.6 L942.9 302.8 L943.4 295.6 L944.2 303.0 L945.1 294.9 L945.5 303.1 L946.8 296.4 L946.8 303.2 L946.8 294.1 L948.1 303.3 L949.3 294.3 L949.4 303.4 L949.5 294.6 L950.7 303.5 L951.5 294.5 L952.0 303.7 L952.0 298.7 L953.3 303.8 L954.2 294.2 L954.6 303.9 L954.7 297.8 L955.9 304.0 L956.2 298.4 L957.2 304.1 L957.6 295.4 L958.5 304.2 L957.5 304.9 L953.5 304.6 L949.5 304.2 L945.5 303.9 L941.5 303.5 L937.5 303.1 L933.5 302.8 L929.5 302.4 L925.5 302.1 L921.5 301.7 L917.5 301.4 L913.5 301.0 L909.5 300.6 L905.5 300.4 L901.5 300.1 L897.5 299.9 L893.5 299.7 L889.5 299.4 L885.5 298.8 L881.5 298.3 L877.5 297.7 L873.5 297.1 L869.5 296.5 L865.5 295.3 L861.5 294.2 L857.5 293.0 L853.5 291.9 L849.5 290.7 L845.5 289.6 L841.5 288.4 L837.5 287.3 L833.5 286.1 L829.5 285.7 L825.5 285.7 L821.5 285.7 L817.5 286.3 L813.5 287.5 L809.5 288.7 L805.5 289.9 L801.5 291.1 L797.5 292.3 L793.5 293.5 L789.5 294.7 L785.5 295.9 L781.5 297.1 L777.5 298.2 L773.5 298.6 L769.5 298.9 L765.5 299.3 L761.5 299.6 L757.5 300.0 L753.5 300.3 L749.5 300.7 L745.5 301.0 L741.5 301.4 L737.5 301.7 L733.5 302.1 L729.5 302.4 L725.5 302.8 L724.5 302.9 Z" fill="#4A9E36"/>
<path d="M724.5 302.7 L726.0 299.4 L726.4 302.5 L726.9 297.5 L728.3 302.3 L729.4 297.1 L730.2 302.2 L731.4 297.2 L732.1 302.0 L733.5 296.7 L734.0 301.9 L734.5 296.7 L735.9 301.7 L736.9 296.9 L737.8 301.5 L738.7 296.6 L739.7 301.4 L740.7 296.1 L741.6 301.2 L742.2 297.6 L743.5 301.0 L744.4 297.8 L745.4 300.9 L746.3 297.9 L747.3 300.7 L748.2 297.5 L749.2 300.5 L750.2 296.3 L751.1 300.4 L751.4 295.1 L753.0 300.2 L753.9 295.0 L754.9 300.0 L756.1 295.6 L756.8 299.9 L757.6 294.7 L758.7 299.7 L760.3 295.7 L760.6 299.5 L761.7 296.5 L762.5 299.4 L762.8 294.8 L764.4 299.2 L765.6 294.7 L766.3 299.0 L767.0 293.6 L768.2 298.9 L769.2 293.3 L770.1 298.7 L771.6 294.5 L772.0 298.5 L773.3 295.6 L773.9 298.4 L774.6 293.8 L775.8 298.2 L776.6 293.0 L777.7 298.0 L778.7 293.7 L779.6 297.5 L780.1 292.4 L781.5 296.9 L782.3 292.7 L783.4 296.4 L784.8 291.8 L785.3 295.8 L786.7 292.0 L787.2 295.2 L788.2 291.1 L789.1 294.7 L790.1 290.9 L791.0 294.1 L792.2 288.4 L792.9 293.5 L793.6 288.3 L794.8 292.9 L795.5 289.0 L796.7 292.4 L797.8 287.7 L798.6 291.8 L798.9 286.6 L800.5 291.2 L802.0 286.2 L802.4 290.7 L802.7 286.1 L804.3 290.1 L804.6 286.2 L806.2 289.5 L807.7 285.9 L808.1 288.9 L809.3 284.2 L810.0 288.4 L811.5 283.2 L811.9 287.8 L813.0 283.1 L813.8 287.2 L815.0 282.5 L815.7 286.6 L816.9 282.0 L817.6 286.1 L818.8 282.5 L819.5 285.5 L820.8 281.5 L821.4 285.5 L821.9 282.5 L823.3 285.5 L824.6 282.6 L825.2 285.5 L826.4 280.2 L827.1 285.5 L828.5 281.7 L829.0 285.5 L830.0 280.6 L830.9 285.5 L831.6 282.0 L832.8 285.7 L833.5 282.1 L834.7 286.3 L835.8 282.6 L836.6 286.8 L836.9 281.8 L838.5 287.4 L838.8 283.3 L840.4 287.9 L841.8 285.1 L842.3 288.5 L843.8 284.4 L844.2 289.0 L844.5 285.3 L846.1 289.5 L847.2 286.0 L848.0 290.1 L849.6 285.0 L849.9 290.6 L850.7 286.8 L851.8 291.2 L853.0 288.4 L853.7 291.7 L854.2 288.7 L855.6 292.3 L855.9 289.7 L857.5 292.8 L857.9 288.5 L859.4 293.4 L859.8 288.2 L861.3 293.9 L861.7 289.0 L863.2 294.4 L864.5 291.9 L865.1 295.0 L866.4 291.9 L867.0 295.5 L867.3 292.5 L868.9 296.1 L870.1 291.5 L870.8 296.5 L872.1 291.6 L872.7 296.8 L873.8 293.9 L874.6 297.1 L875.5 292.5 L876.5 297.3 L877.1 292.2 L878.4 297.6 L879.7 292.4 L880.3 297.9 L880.6 295.2 L882.2 298.2 L883.6 293.8 L884.1 298.4 L884.8 295.6 L886.0 298.7 L886.5 294.1 L887.9 299.0 L888.8 294.0 L889.8 299.3 L890.6 296.4 L891.7 299.4 L892.6 295.1 L893.6 299.5 L894.1 294.9 L895.5 299.6 L896.3 294.7 L897.4 299.7 L898.5 295.2 L899.3 299.8 L900.1 296.0 L901.2 299.9 L902.8 295.1 L903.1 300.0 L904.1 295.2 L905.0 300.1 L905.3 296.6 L906.9 300.2 L908.1 294.9 L908.8 300.4 L909.5 295.4 L910.7 300.5 L912.3 296.2 L912.6 300.7 L913.7 295.8 L914.5 300.9 L915.3 297.4 L916.4 301.1 L917.2 295.9 L918.3 301.2 L919.4 296.7 L920.2 301.4 L921.6 296.3 L922.1 301.6 L922.4 298.1 L924.0 301.7 L924.8 298.3 L925.9 301.9 L927.3 297.6 L927.8 302.1 L928.1 297.0 L929.7 302.2 L931.1 297.3 L931.6 302.4 L932.7 297.4 L933.5 302.6 L934.9 299.2 L935.4 302.8 L936.6 297.9 L937.3 302.9 L938.0 297.8 L939.2 303.1 L940.2 300.2 L941.1 303.3 L941.6 298.4 L943.0 303.4 L944.6 298.7 L944.9 303.6 L946.0 300.3 L946.8 303.8 L947.7 299.3 L948.7 304.0 L949.3 300.7 L950.6 304.1 L952.0 299.4 L952.5 304.3 L952.9 300.4 L954.4 304.5 L955.7 299.6 L956.3 304.6 L957.4 301.3 L958.2 304.8 L957.5 305.9 L953.5 305.6 L949.5 305.2 L945.5 304.9 L941.5 304.5 L937.5 304.1 L933.5 303.8 L929.5 303.4 L925.5 303.1 L921.5 302.7 L917.5 302.4 L913.5 302.0 L909.5 301.6 L905.5 301.4 L901.5 301.1 L897.5 300.9 L893.5 300.7 L889.5 300.4 L885.5 299.8 L881.5 299.3 L877.5 298.7 L873.5 298.1 L869.5 297.5 L865.5 296.3 L861.5 295.2 L857.5 294.0 L853.5 292.9 L849.5 291.7 L845.5 290.6 L841.5 289.4 L837.5 288.3 L833.5 287.1 L829.5 286.7 L825.5 286.7 L821.5 286.7 L817.5 287.3 L813.5 288.5 L809.5 289.7 L805.5 290.9 L801.5 292.1 L797.5 293.3 L793.5 294.5 L789.5 295.7 L785.5 296.9 L781.5 298.1 L777.5 299.2 L773.5 299.6 L769.5 299.9 L765.5 300.3 L761.5 300.6 L757.5 301.0 L753.5 301.3 L749.5 301.7 L745.5 302.0 L741.5 302.4 L737.5 302.7 L733.5 303.1 L729.5 303.4 L725.5 303.8 L724.5 303.9 Z" fill="#7BC04E" opacity="0.85"/>
<rect x="818.8" y="279.7" width="4.3" height="57" fill="#696969"/>
<rect x="828.1" y="279.7" width="4" height="57" fill="#696969"/>
<rect x="910.3" y="285.9" width="8.2" height="11.6" fill="#6B6B6B"/>
<rect x="901.5" y="293.3" width="10" height="4.2" fill="#6B6B6B"/>
<line x1="886.4" y1="281.7" x2="894.8" y2="277.2" stroke="#666" stroke-width="0.7"/>
<line x1="902.9" y1="277.2" x2="912.8" y2="282.2" stroke="#666" stroke-width="0.7"/>
<polygon points="890.3,297.5 908.8,297.5 907.5,302.5 903.5,306.6 895,306 891.5,302.5" fill="#111"/>
</g>
<path d="M294.3 128.0 C293.1 127.9 289.4 127.4 287.2 127.6 C285.0 127.8 283.0 128.5 280.9 129.3 C278.8 130.1 276.8 131.1 274.5 132.5 C272.2 133.9 269.6 135.8 267.1 137.8 C264.6 139.8 262.0 142.4 259.7 144.5 C257.4 146.6 255.6 147.9 253.4 150.5 C251.2 153.1 248.4 157.1 246.3 160.0 C244.2 162.9 242.8 165.0 241.0 167.7 C239.2 170.4 237.2 173.1 235.3 176.0 C233.4 178.9 231.7 181.3 229.8 185.3 C227.9 189.3 226.0 195.7 224.0 200.0 C222.0 204.3 220.1 206.5 218.0 211.0 C215.9 215.5 213.1 223.0 211.7 227.0 C210.3 231.0 210.6 231.9 209.6 235.0 C208.6 238.1 206.8 242.1 205.7 245.6 C204.6 249.1 203.8 252.5 203.0 256.0 C202.2 259.5 201.5 263.3 200.9 266.8 C200.3 270.3 199.9 273.5 199.6 277.0 C199.2 280.5 198.9 285.0 198.8 288.0 C198.7 291.0 198.5 291.3 198.8 295.0 C199.1 298.7 199.6 304.3 200.5 310.0 C201.4 315.7 203.4 325.8 204.0 329.0 L216 329 L210.5 309.7 L207.3 313.5 L207.3 313.5 C207.0 311.8 205.8 306.1 205.2 303.0 C204.6 299.9 204.2 297.5 203.9 295.0 C203.6 292.5 203.6 291.0 203.6 288.0 C203.6 285.0 203.9 280.5 204.2 277.0 C204.4 273.5 204.7 270.3 205.1 266.8 C205.5 263.3 205.9 259.5 206.4 256.0 C206.9 252.5 207.5 249.1 208.3 245.6 C209.2 242.1 210.7 238.1 211.5 235.0 C212.3 231.9 212.0 231.0 213.4 227.0 C214.8 223.0 217.7 215.5 219.8 211.0 C221.9 206.5 224.1 204.3 226.2 200.0 C228.3 195.7 230.4 189.3 232.6 185.3 C234.8 181.3 237.4 178.9 239.5 176.0 C241.6 173.1 243.2 170.4 245.3 167.7 C247.4 165.0 249.7 162.9 252.0 160.0 C254.3 157.1 257.1 152.9 259.3 150.5 C261.5 148.1 262.8 147.5 265.0 145.8 C267.2 144.1 270.1 141.9 272.4 140.5 C274.7 139.1 276.6 138.2 278.7 137.6 C280.8 137.0 283.1 136.7 285.1 136.7 C287.1 136.7 289.7 137.6 290.6 137.8 Z" fill="#4472C4" stroke="#2F528F" stroke-width="0.6"/>
<path d="M294.3 128.0 C293.1 127.9 289.4 127.4 287.2 127.6 C285.0 127.8 283.0 128.5 280.9 129.3 C278.8 130.1 276.8 131.1 274.5 132.5 C272.2 133.9 269.6 135.8 267.1 137.8 C264.6 139.8 262.0 142.4 259.7 144.5 C257.4 146.6 255.6 147.9 253.4 150.5 C251.2 153.1 248.4 157.1 246.3 160.0 C244.2 162.9 242.8 165.0 241.0 167.7 C239.2 170.4 237.2 173.1 235.3 176.0 C233.4 178.9 231.7 181.3 229.8 185.3 C227.9 189.3 226.0 195.7 224.0 200.0 C222.0 204.3 220.1 206.5 218.0 211.0 C215.9 215.5 213.1 223.0 211.7 227.0 C210.3 231.0 210.6 231.9 209.6 235.0 C208.6 238.1 206.3 243.8 205.7 245.6 L208.3 245.6 C208.8 243.8 210.7 238.1 211.5 235.0 C212.3 231.9 212.0 231.0 213.4 227.0 C214.8 223.0 217.7 215.5 219.8 211.0 C221.9 206.5 224.1 204.3 226.2 200.0 C228.3 195.7 230.4 189.3 232.6 185.3 C234.8 181.3 237.4 178.9 239.5 176.0 C241.6 173.1 243.2 170.4 245.3 167.7 C247.4 165.0 249.7 162.9 252.0 160.0 C254.3 157.1 257.1 152.9 259.3 150.5 C261.5 148.1 262.8 147.5 265.0 145.8 C267.2 144.1 270.1 141.9 272.4 140.5 C274.7 139.1 276.6 138.2 278.7 137.6 C280.8 137.0 283.1 136.7 285.1 136.7 C287.1 136.7 289.7 137.6 290.6 137.8 Z" fill="#375DA5" stroke="#375DA5" stroke-width="0.5"/>
<path d="M520.9 125.3 L528 110.9 L530.8 116.7 L530.8 116.7 C532.3 116.9 536.6 116.9 539.7 117.7 C542.8 118.5 546.3 119.8 549.6 121.3 C552.9 122.8 556.2 124.6 559.5 126.8 C562.8 129.0 566.7 132.2 569.4 134.5 C572.1 136.8 572.7 137.5 575.6 140.3 C578.5 143.1 583.5 148.1 586.7 151.3 C589.9 154.5 591.3 155.2 594.7 159.5 C598.1 163.8 603.2 171.0 607.1 177.0 C611.0 183.0 615.0 190.4 617.8 195.3 C620.6 200.2 621.2 200.7 624.0 206.5 C626.8 212.3 631.5 223.0 634.3 230.0 C637.0 237.0 638.8 242.4 640.5 248.6 C642.2 254.8 643.8 260.9 644.6 267.1 C645.4 273.3 645.6 279.5 645.5 285.7 C645.4 291.9 644.9 299.6 644.2 304.3 C643.5 309.0 642.9 309.7 641.2 313.6 C639.6 317.6 635.4 325.6 634.3 328.0 L626.9 328 L621.9 316.3 L621.9 316.3 C622.9 315.9 625.8 315.6 627.9 313.6 C630.0 311.6 632.5 309.0 634.3 304.3 C636.0 299.6 637.6 291.9 638.4 285.7 C639.2 279.5 639.4 273.3 639.3 267.1 C639.2 260.9 638.9 254.8 637.7 248.6 C636.5 242.4 634.7 236.9 632.2 230.0 C629.7 223.1 625.5 212.9 622.9 207.2 C620.3 201.5 619.4 200.8 616.6 196.0 C613.8 191.2 609.6 183.6 605.9 178.4 C602.2 173.2 598.4 169.2 594.5 165.0 C590.6 160.8 586.5 156.9 582.4 153.2 C578.3 149.5 573.0 145.5 570.0 143.0 C567.0 140.5 567.1 140.2 564.5 138.4 C561.9 136.6 557.7 133.6 554.6 132.0 C551.5 130.4 548.5 129.5 545.9 129.1 C543.3 128.7 540.1 129.6 538.9 129.7 L541 135 Z" fill="#4472C4" stroke="#2F528F" stroke-width="0.6"/>
<path d="M624.0 206.5 C625.7 210.4 631.5 223.0 634.3 230.0 C637.0 237.0 638.8 242.4 640.5 248.6 C642.2 254.8 643.8 260.9 644.6 267.1 C645.4 273.3 645.6 279.5 645.5 285.7 C645.4 291.9 644.9 299.6 644.2 304.3 C643.5 309.0 642.9 309.7 641.2 313.6 C639.6 317.6 635.4 325.6 634.3 328.0 L626.9 328 L621.9 316.3 L621.9 316.3 C622.9 315.9 625.8 315.6 627.9 313.6 C630.0 311.6 632.5 309.0 634.3 304.3 C636.0 299.6 637.6 291.9 638.4 285.7 C639.2 279.5 639.4 273.3 639.3 267.1 C639.2 260.9 638.9 254.8 637.7 248.6 C636.5 242.4 634.7 236.9 632.2 230.0 C629.7 223.1 624.5 211.0 622.9 207.2 Z" fill="#375DA5"/>
<path d="M274.7 449.0 C274.9 449.8 275.1 452.2 275.6 454.0 C276.1 455.8 276.1 457.2 277.6 459.6 C279.1 462.0 281.6 465.6 284.4 468.3 C287.2 471.1 290.9 474.0 294.2 476.1 C297.4 478.2 300.7 479.6 303.9 481.0 C307.1 482.4 310.4 483.7 313.6 484.8 C316.8 485.9 320.1 486.9 323.3 487.8 C326.5 488.7 329.4 489.4 333.0 490.2 C336.6 491.0 340.5 491.8 345.0 492.6 C349.5 493.4 354.2 494.1 360.0 494.8 C365.8 495.5 371.7 496.2 380.0 496.9 C388.3 497.6 401.7 498.5 410.0 498.9 C418.3 499.3 423.3 499.4 430.0 499.5 C436.7 499.6 443.8 499.5 450.0 499.3 C456.2 499.1 460.8 499.0 467.5 498.5 C474.2 498.0 482.7 497.1 490.0 496.1 C497.3 495.1 504.1 494.0 511.2 492.4 C518.3 490.8 526.2 488.6 532.4 486.5 C538.6 484.4 543.0 482.6 548.3 480.1 C553.6 477.6 560.4 473.8 564.2 471.6 C568.0 469.5 569.1 468.4 571.0 467.2 C572.9 466.0 574.8 465.0 575.5 464.6 L585.3 464.3 L577.7 451.8 L559.7 464.3 L564.8 464.9 C563.8 465.4 561.6 466.5 558.9 468.2 C556.1 469.9 552.7 472.7 548.3 475.1 C543.9 477.5 538.6 480.0 532.4 482.5 C526.2 485.0 518.3 487.9 511.2 489.9 C504.1 491.8 497.3 493.0 490.0 494.2 C482.7 495.4 474.2 496.4 467.5 497.0 C460.8 497.6 456.2 497.8 450.0 498.0 C443.8 498.2 436.7 498.4 430.0 498.4 C423.3 498.4 418.3 498.4 410.0 497.9 C401.7 497.4 388.3 496.4 380.0 495.6 C371.7 494.9 365.8 494.2 360.0 493.4 C354.2 492.6 349.2 491.6 345.0 490.8 C340.8 490.0 338.6 489.5 335.0 488.3 C331.4 487.1 326.9 485.4 323.3 483.9 C319.7 482.3 316.8 480.8 313.6 479.0 C310.4 477.2 307.1 475.6 303.9 473.2 C300.7 470.8 296.1 466.4 294.2 464.4 C292.3 462.4 293.2 462.4 292.5 461.0 C291.8 459.6 290.5 458.0 289.8 456.0 C289.1 454.0 288.5 450.2 288.2 449.0 Z" fill="#4472C4" stroke="#2F528F" stroke-width="0.6"/>
<path d="M274.7 449.0 C274.9 449.8 275.1 452.2 275.6 454.0 C276.1 455.8 276.1 457.2 277.6 459.6 C279.1 462.0 281.6 465.6 284.4 468.3 C287.2 471.1 290.9 474.0 294.2 476.1 C297.4 478.2 300.7 479.6 303.9 481.0 C307.1 482.4 310.4 483.7 313.6 484.8 C316.8 485.9 320.1 486.9 323.3 487.8 C326.5 488.7 329.4 489.4 333.0 490.2 C336.6 491.0 340.5 491.8 345.0 492.6 C349.5 493.4 354.2 494.1 360.0 494.8 C365.8 495.5 371.7 496.2 380.0 496.9 C388.3 497.6 401.7 498.5 410.0 498.9 C418.3 499.3 426.7 499.4 430.0 499.5 L430.0 498.4 C426.7 498.3 418.3 498.4 410.0 497.9 C401.7 497.4 388.3 496.4 380.0 495.6 C371.7 494.9 365.8 494.2 360.0 493.4 C354.2 492.6 349.2 491.6 345.0 490.8 C340.8 490.0 338.6 489.5 335.0 488.3 C331.4 487.1 326.9 485.4 323.3 483.9 C319.7 482.3 316.8 480.8 313.6 479.0 C310.4 477.2 307.1 475.6 303.9 473.2 C300.7 470.8 296.1 466.4 294.2 464.4 C292.3 462.4 293.2 462.4 292.5 461.0 C291.8 459.6 290.5 458.0 289.8 456.0 C289.1 454.0 288.5 450.2 288.2 449.0 Z" fill="#375DA5" stroke="#375DA5" stroke-width="0.4"/>
<polygon class="ar" points="232.7,51.2 241.1,42.7 241.1,47.1 335.7,47.1 335.7,70.0 327.5,70.0 327.5,54.7 241.1,54.7 241.1,59.2"/>
<polygon class="ar" points="222.4,108.6 230.5,98.9 231.1,103.1 296.0,97.9 296.0,107.1 231.6,112.3 231.9,116.9"/>
<polygon class="ar" points="117.8,384.4 126.3,376.0 126.3,380.7 164.0,380.7 164.0,388.1 126.3,388.1 126.3,392.6"/>
<polygon class="ar" points="141.6,434.0 146.3,422.4 148.2,426.6 164.0,420.0 164.0,429.2 151.5,433.2 153.2,437.2"/>
<polygon class="ar" points="156.6,439.3 163.5,439.3 163.5,472.6 167.6,472.6 160.1,480.9 153.0,472.6 156.6,472.6"/>
<path class="ar" d="M704 380.7 L725 380.7 Q737.5 380.7 737.5 393.5 L737.5 447.7 L743 447.7 L733.2 457.2 L723.3 447.7 L728.4 447.7 L728.4 393 Q728.4 390.4 725.5 390.4 L704 390.4 Z"/>
<polygon class="ar" points="765.2,431.5 773.6,439.3 769.0,439.3 769.0,459.5 760.7,459.5 760.7,439.3 757.2,439.3"/>
<polygon class="ar" points="804.0,467.7 796.3,474.6 796.3,471.2 787.5,471.2 787.5,464.1 796.3,464.1 796.3,461.0"/>
<path class="ar" d="M787.5 485.3 L796.5 485.3 Q805.3 485.3 805.3 494.5 L805.3 508.6 L808.7 508.6 L801.3 518.2 L794 508.6 L797.4 508.6 L797.4 496 Q797.4 492.2 793.5 492.2 L787.5 492.2 Z"/>
<rect class="bx" x="128.5" y="35.5" width="104.0" height="38.5"/>
<rect class="bx" x="117.5" y="92.5" width="103.0" height="44.0"/>
<rect class="bx" x="294.5" y="68.5" width="221.0" height="125.0"/>
<rect class="bx" x="162.5" y="327.5" width="221.0" height="123.0"/>
<rect class="bx" x="483.5" y="326.5" width="222.0" height="123.0"/>
<rect class="bx" x="3.5" y="370.5" width="113.0" height="38.0"/>
<rect class="bx" x="30.5" y="436.5" width="112.0" height="39.0"/>
<rect class="bx" x="132.5" y="487.5" width="167.0" height="39.0"/>
<rect class="bx" x="654.5" y="458.5" width="134.0" height="57.0"/>
<rect class="bx" x="748.5" y="393.5" width="115.0" height="38.0"/>
<rect class="bx" x="804.5" y="445.5" width="109.0" height="38.0"/>
<rect class="bx" x="713.5" y="520.5" width="158.0" height="38.0"/>
<text class="w" x="382.3" y="104.1" font-size="27.8" textLength="45.7" lengthAdjust="spacingAndGlyphs">NM</text>
<text class="w" x="334.0" y="142.3" font-size="27.8" textLength="142.2" lengthAdjust="spacingAndGlyphs">Production</text>
<text class="w" x="309.0" y="180.3" font-size="27.8" textLength="192.2" lengthAdjust="spacingAndGlyphs">/Incorporation</text>
<text class="w" x="182.6" y="381.6" font-size="27.8" textLength="179.4" lengthAdjust="spacingAndGlyphs">Nanomaterial</text>
<text class="w" x="234.5" y="420.0" font-size="27.8" textLength="75.8" lengthAdjust="spacingAndGlyphs">in use</text>
<text class="w" x="553.6" y="360.6" font-size="27.8" textLength="83.2" lengthAdjust="spacingAndGlyphs">End of</text>
<text class="w" x="507.2" y="399.0" font-size="27.8" textLength="175.2" lengthAdjust="spacingAndGlyphs">nanomaterial</text>
<text class="w" x="574.8" y="437.5" font-size="27.8" textLength="39.5" lengthAdjust="spacingAndGlyphs">life</text>
<text class="w" x="667.8" y="498.1" font-size="29.0" textLength="108.4" lengthAdjust="spacingAndGlyphs">Disposal</text>
<text class="w" x="147.2" y="61.9" font-size="18.3" textLength="66.5" lengthAdjust="spacingAndGlyphs">Release</text>
<text class="w" x="129.0" y="121.4" font-size="18.3" textLength="80.2" lengthAdjust="spacingAndGlyphs">Exposure</text>
<text class="w" x="26.5" y="396.4" font-size="18.3" textLength="66.5" lengthAdjust="spacingAndGlyphs">Release</text>
<text class="w" x="46.3" y="464.1" font-size="18.3" textLength="80.2" lengthAdjust="spacingAndGlyphs">Exposure</text>
<text class="w" x="149.0" y="514.1" font-size="18.3" textLength="134.3" lengthAdjust="spacingAndGlyphs">Transformation</text>
<text class="w" x="773.5" y="420.1" font-size="18.3" textLength="65.5" lengthAdjust="spacingAndGlyphs">Release</text>
<text class="w" x="819.5" y="472.0" font-size="18.3" textLength="79.3" lengthAdjust="spacingAndGlyphs">Exposure</text>
<text class="w" x="725.3" y="546.4" font-size="18.3" textLength="134.5" lengthAdjust="spacingAndGlyphs">Transformation</text>
<g fill="#FF0000" font-weight="bold">
<text x="254.8" y="245.5" font-size="43.0" textLength="337.3" lengthAdjust="spacingAndGlyphs">Nanomaterials in</text>
<text x="233" y="303.4" font-size="43.0" textLength="381.2" lengthAdjust="spacingAndGlyphs">consumer products</text>
<rect x="253.3" y="251" width="340.2" height="3.1"/>
<rect x="231.5" y="308.1" width="383.6" height="3.1"/>
</g>
<text transform="translate(594.6,154.8) rotate(60.4)" x="0" y="0" font-size="22.3" font-weight="bold" fill="#000" stroke="#000" stroke-width="0.4" textLength="98.5" lengthAdjust="spacingAndGlyphs">Recycling</text>
<polygon points="610.1,9.1 613.7,9.1 613.7,15.9 616.2,15.9 611.9,21.1 607.6,15.9 610.1,15.9" fill="#C77F4A" stroke="#55300F" stroke-width="1.1" stroke-linejoin="miter"/>
<rect x="521.2" y="22.3" width="180.6" height="47.4" fill="#E3E8C9"/>
<g fill="#565C3A" stroke="#1E2216" stroke-width="1.3" filter="url(#blur0)">
<circle cx="549.6" cy="31.2" r="1.6"/>
<circle cx="569.0" cy="31.0" r="1.6"/>
<circle cx="587.3" cy="33.2" r="1.6"/>
<circle cx="601.2" cy="33.2" r="1.6"/>
<circle cx="531.7" cy="34.7" r="1.6"/>
<circle cx="538.5" cy="35.7" r="1.6"/>
<circle cx="524.6" cy="37.8" r="1.6"/>
<circle cx="555.8" cy="38.6" r="1.6"/>
<circle cx="559.5" cy="39.0" r="1.6"/>
<circle cx="572.5" cy="37.8" r="1.6"/>
<circle cx="576.6" cy="37.8" r="1.6"/>
<circle cx="545.7" cy="40.5" r="1.6"/>
<circle cx="563.0" cy="41.5" r="1.6"/>
<circle cx="570.6" cy="41.7" r="1.6"/>
<circle cx="573.7" cy="41.7" r="1.6"/>
<circle cx="577.4" cy="41.8" r="1.6"/>
<circle cx="583.9" cy="41.5" r="1.6"/>
<circle cx="590.6" cy="41.2" r="1.6"/>
<circle cx="597.6" cy="41.2" r="1.6"/>
<circle cx="604.6" cy="40.2" r="1.6"/>
<circle cx="524.6" cy="43.1" r="1.6"/>
<circle cx="531.7" cy="43.3" r="1.6"/>
<circle cx="538.5" cy="42.1" r="1.6"/>
<circle cx="542.2" cy="44.6" r="1.6"/>
<circle cx="528.2" cy="46.0" r="1.6"/>
<circle cx="594.1" cy="44.3" r="1.6"/>
<circle cx="552.7" cy="47.6" r="1.6"/>
<circle cx="573.1" cy="47.4" r="1.6"/>
<circle cx="583.0" cy="47.4" r="1.6"/>
<circle cx="586.7" cy="47.4" r="1.6"/>
<circle cx="601.2" cy="47.4" r="1.6"/>
<circle cx="601.2" cy="50.1" r="1.6"/>
<circle cx="528.2" cy="51.4" r="1.6"/>
<circle cx="538.5" cy="51.7" r="1.6"/>
<circle cx="579.9" cy="51.4" r="1.6"/>
<circle cx="566.3" cy="52.6" r="1.6"/>
<circle cx="590.6" cy="52.8" r="1.6"/>
<circle cx="594.1" cy="52.8" r="1.6"/>
<circle cx="531.7" cy="54.4" r="1.6"/>
<circle cx="545.7" cy="54.4" r="1.6"/>
<circle cx="552.7" cy="55.7" r="1.6"/>
<circle cx="580.5" cy="55.7" r="1.6"/>
<circle cx="587.3" cy="56.9" r="1.6"/>
<circle cx="604.2" cy="55.9" r="1.6"/>
<circle cx="524.6" cy="60.0" r="1.6"/>
<circle cx="539.1" cy="60.0" r="1.6"/>
<circle cx="541.6" cy="59.4" r="1.6"/>
<circle cx="544.0" cy="59.4" r="1.6"/>
<circle cx="538.5" cy="62.5" r="1.6"/>
<circle cx="541.6" cy="62.8" r="1.6"/>
<circle cx="544.0" cy="62.1" r="1.6"/>
<circle cx="573.1" cy="58.8" r="1.6"/>
<circle cx="594.1" cy="61.6" r="1.6"/>
<circle cx="587.6" cy="62.8" r="1.6"/>
<circle cx="601.2" cy="61.6" r="1.6"/>
<circle cx="603.4" cy="60.0" r="1.6"/>
<circle cx="604.2" cy="61.6" r="1.6"/>
<circle cx="528.2" cy="65.6" r="1.6"/>
<circle cx="535.1" cy="66.8" r="1.6"/>
<circle cx="552.7" cy="66.8" r="1.6"/>
<circle cx="573.1" cy="64.3" r="1.6"/>
<circle cx="576.8" cy="66.8" r="1.6"/>
<circle cx="580.5" cy="64.3" r="1.6"/>
<circle cx="601.2" cy="64.3" r="1.6"/>
<circle cx="601.2" cy="66.8" r="1.6"/>
<circle cx="621.9" cy="33.2" r="1.6"/>
<circle cx="646.2" cy="35.9" r="1.6"/>
<circle cx="677.7" cy="35.9" r="1.6"/>
<circle cx="688.1" cy="35.9" r="1.6"/>
<circle cx="658.2" cy="37.1" r="1.6"/>
<circle cx="660.6" cy="35.3" r="1.6"/>
<circle cx="662.5" cy="37.4" r="1.6"/>
<circle cx="611.4" cy="41.7" r="1.6"/>
<circle cx="611.4" cy="44.3" r="1.6"/>
<circle cx="621.9" cy="43.9" r="1.6"/>
<circle cx="625.4" cy="44.6" r="1.6"/>
<circle cx="632.2" cy="40.8" r="1.6"/>
<circle cx="635.9" cy="41.7" r="1.6"/>
<circle cx="651.6" cy="42.1" r="1.6"/>
<circle cx="667.2" cy="42.9" r="1.6"/>
<circle cx="674.2" cy="44.3" r="1.6"/>
<circle cx="681.3" cy="42.7" r="1.6"/>
<circle cx="695.0" cy="45.8" r="1.6"/>
<circle cx="642.7" cy="47.4" r="1.6"/>
<circle cx="633.4" cy="48.9" r="1.6"/>
<circle cx="608.7" cy="50.7" r="1.6"/>
<circle cx="626.6" cy="51.7" r="1.6"/>
<circle cx="618.6" cy="52.6" r="1.6"/>
<circle cx="645.2" cy="50.7" r="1.6"/>
<circle cx="645.2" cy="53.5" r="1.6"/>
<circle cx="653.2" cy="50.1" r="1.6"/>
<circle cx="670.5" cy="50.1" r="1.6"/>
<circle cx="674.2" cy="51.7" r="1.6"/>
<circle cx="688.1" cy="48.5" r="1.6"/>
<circle cx="695.0" cy="51.4" r="1.6"/>
<circle cx="611.4" cy="55.7" r="1.6"/>
<circle cx="618.6" cy="55.7" r="1.6"/>
<circle cx="633.4" cy="54.4" r="1.6"/>
<circle cx="663.7" cy="55.7" r="1.6"/>
<circle cx="635.9" cy="58.4" r="1.6"/>
<circle cx="646.2" cy="58.8" r="1.6"/>
<circle cx="686.0" cy="58.2" r="1.6"/>
<circle cx="687.6" cy="58.2" r="1.6"/>
<circle cx="618.6" cy="61.6" r="1.6"/>
<circle cx="634.0" cy="61.2" r="1.6"/>
<circle cx="632.2" cy="64.1" r="1.6"/>
<circle cx="667.2" cy="61.6" r="1.6"/>
<circle cx="674.2" cy="62.5" r="1.6"/>
<circle cx="686.0" cy="60.6" r="1.6"/>
<circle cx="653.5" cy="64.6" r="1.6"/>
<circle cx="688.1" cy="65.6" r="1.6"/>
<circle cx="641.1" cy="67.8" r="1.6"/>
<circle cx="681.3" cy="68.4" r="1.6"/>
</g>
<text x="512.8" y="22.9" font-size="16.2" font-style="italic" fill="#111">1.</text>
<g>
<clipPath id="cb"><rect x="592.3" y="72.8" width="45" height="67"/></clipPath>
<linearGradient id="liq" x1="0" x2="1" y1="0" y2="0"><stop offset="0" stop-color="#9A7A22"/><stop offset="0.18" stop-color="#C6A848"/><stop offset="0.45" stop-color="#B6952F"/><stop offset="0.8" stop-color="#A58526"/><stop offset="1" stop-color="#8A6C1C"/></linearGradient>
<linearGradient id="bgb" x1="0" x2="0" y1="0" y2="1"><stop offset="0" stop-color="#A7AABA"/><stop offset="0.5" stop-color="#B3B4BF"/><stop offset="1" stop-color="#B6B3B2"/></linearGradient>
<g clip-path="url(#cb)">
<rect x="592.3" y="72.8" width="45" height="67" fill="url(#bgb)"/>
<ellipse cx="599" cy="84" rx="8" ry="12" fill="#C6C8D4" filter="url(#blur3)"/>
<ellipse cx="632" cy="126" rx="6" ry="12" fill="#9C9A9C" filter="url(#blur3)"/>
<ellipse cx="600" cy="128" rx="7" ry="10" fill="#BFBEC2" filter="url(#blur3)"/>
<g filter="url(#blur1)">
<rect x="606.2" y="96" width="22.6" height="39" rx="3.5" fill="#C4BC98"/>
<rect x="606.2" y="103.5" width="22.6" height="31.5" rx="3" fill="url(#liq)"/>
<rect x="606.2" y="102.5" width="22.6" height="3" fill="#B79C40" opacity="0.8"/>
<ellipse cx="617.5" cy="132.6" rx="10.8" ry="2.6" fill="#CDAE4C"/>
<rect x="605.5" y="77.6" width="24.8" height="21.2" rx="4.2" fill="#19191B"/>
<ellipse cx="617.9" cy="79.6" rx="10.5" ry="1.8" fill="#2c2c30"/>
</g>
</g></g>
<g>
<clipPath id="cl"><rect x="5.7" y="243.1" width="84.4" height="105.7"/></clipPath>
<clipPath id="clea"><polygon points="52.4,249.2 60.6,248.6 64.0,254.3 67.1,258.3 68.1,264.4 67.1,270.5 66.1,276.6 65.0,281.7 65.4,288.8 66.7,296.9 70.1,305.1 74.2,312.2 78.9,318.9 73.2,317.7 68.1,315.2 63.0,316.3 57.9,319.3 53.9,323.4 51.8,327.4 48.8,328.4 45.1,333.5 41.7,339.6 40.2,343.3 38.6,338.6 33.5,331.5 28.5,325.4 22.4,318.3 18.3,309.1 14.2,299.0 11.2,289.8 8.1,282.7 6.5,277.6 9.1,275.6 13.2,273.6 15.9,270.5 14.6,266.5 18.3,263.4 23.4,260.4 30.5,258.3 37.6,256.3 44.7,252.6"/></clipPath>
<filter id="paper" x="0" y="0" width="100%" height="100%"><feTurbulence type="fractalNoise" baseFrequency="0.9" numOctaves="2" seed="3" result="n"/><feColorMatrix in="n" type="matrix" values="0 0 0 0 0.5  0 0 0 0 0.5  0 0 0 0 0.5  0 0 0 0.35 0"/><feComposite operator="in" in2="SourceGraphic"/></filter>
<g clip-path="url(#cl)">
<rect x="5.7" y="243.1" width="84.4" height="105.7" fill="#E2E2E1"/>
<rect x="5.7" y="243.1" width="84.4" height="8" fill="#A6A6A6" filter="url(#blur1)"/>
<rect x="5.7" y="250" width="7.5" height="52" fill="#C6C6C6" filter="url(#blur2)"/>
<polygon points="12.2,246.1 61.0,245.1 90.0,253.2 90.0,299.0 67.1,299.0 67.1,262.4 12.2,264.4" fill="#F3F3F2" filter="url(#blur1)"/>
<polygon points="68.1,283.7 90.0,289.8 90.0,301.0 69.1,299.0" fill="#D5D5D3" filter="url(#blur2)"/>
<polygon points="68.1,259.3 90.0,262.4 90.0,288.8 70.1,281.7" fill="#FBFBFA" filter="url(#blur1)"/>
<rect x="5.7" y="300" width="84.4" height="49" fill="#E3E3E2" filter="url(#blur3)"/>
<rect x="5.7" y="243.1" width="84.4" height="105.7" fill="#888" filter="url(#paper)" opacity="0.35"/>
<g filter="url(#blur1)">
<polygon points="52.4,249.2 60.6,248.6 64.0,254.3 67.1,258.3 68.1,264.4 67.1,270.5 66.1,276.6 65.0,281.7 65.4,288.8 66.7,296.9 70.1,305.1 74.2,312.2 78.9,318.9 73.2,317.7 68.1,315.2 63.0,316.3 57.9,319.3 53.9,323.4 51.8,327.4 48.8,328.4 45.1,333.5 41.7,339.6 40.2,343.3 38.6,338.6 33.5,331.5 28.5,325.4 22.4,318.3 18.3,309.1 14.2,299.0 11.2,289.8 8.1,282.7 6.5,277.6 9.1,275.6 13.2,273.6 15.9,270.5 14.6,266.5 18.3,263.4 23.4,260.4 30.5,258.3 37.6,256.3 44.7,252.6" fill="#A05828"/>
<g clip-path="url(#clea)">
<polygon points="18.3,263.4 44.7,252.6 60.6,248.6 67.1,260.4 61.0,272.6 40.7,276.6 22.4,281.7 12.2,278.7" fill="#B26931" filter="url(#blur3)"/>
<polygon points="30.5,284.7 52.8,278.7 61.0,290.8 50.8,305.1 34.6,303.0 26.4,292.9" fill="#854519" filter="url(#blur3)" opacity="0.9"/>
<polygon points="46.7,305.1 66.1,294.9 70.1,305.1 78.9,318.9 63.0,316.3 51.8,327.4 40.2,343.3 35.6,327.4" fill="#93501F" filter="url(#blur3)"/>
<polygon points="10.2,284.7 22.4,283.7 30.5,299.0 28.5,315.2 20.3,313.2 13.2,296.9" fill="#B87740" filter="url(#blur3)" opacity="0.8"/>
<polygon points="40.2,343.3 45.1,333.5 51.8,327.4 57.9,319.3 68.1,315.2 78.9,318.9 71.1,319.3 61.0,321.3 53.3,329.1 45.7,337.6" fill="#7E411A" filter="url(#blur2)" opacity="0.8"/>
<polyline points="24.4,268.5 34.6,284.7 40.7,296.9 46.7,309.1 43.7,325.4" fill="none" stroke="#7A421A" stroke-width="2" opacity="0.35" filter="url(#blur2)"/>
</g>
<polygon points="52.4,249.2 60.6,248.6 64.0,254.3 67.1,258.3 68.1,264.4 67.1,270.5 66.1,276.6 65.0,281.7 65.4,288.8 66.7,296.9 70.1,305.1 74.2,312.2 78.9,318.9 73.2,317.7 68.1,315.2 63.0,316.3 57.9,319.3 53.9,323.4 51.8,327.4 48.8,328.4 45.1,333.5 41.7,339.6 40.2,343.3 38.6,338.6 33.5,331.5 28.5,325.4 22.4,318.3 18.3,309.1 14.2,299.0 11.2,289.8 8.1,282.7 6.5,277.6 9.1,275.6 13.2,273.6 15.9,270.5 14.6,266.5 18.3,263.4 23.4,260.4 30.5,258.3 37.6,256.3 44.7,252.6" fill="none" stroke="#6B3514" stroke-width="0.8" opacity="0.8"/>
<polygon points="53.9,275.2 90.0,270.5 90.0,277.6 69.1,276.6" fill="#2B2B2D"/>
<polygon points="53.9,275.1 90.0,270.5 90.0,271.9" fill="#8E8E8E"/>
<path d="M50 333 q2 3 0 5 q-2 -2 0 -5" fill="none" stroke="#8A5A30" stroke-width="0.6"/>
</g>
</g></g>
<g>
<filter id="denim" x="0" y="0" width="100%" height="100%"><feTurbulence type="fractalNoise" baseFrequency="0.08 0.11" numOctaves="3" seed="11" result="n"/><feColorMatrix in="n" type="matrix" values="0 0 0 0 0.40  0 0 0 0 0.54  0 0 0 0 0.68  0 0 0 1.5 -0.74"/><feComposite operator="in" in2="SourceGraphic"/></filter>
<filter id="denim2" x="0" y="0" width="100%" height="100%"><feTurbulence type="fractalNoise" baseFrequency="0.7 0.25" numOctaves="2" seed="5" result="n"/><feColorMatrix in="n" type="matrix" values="0 0 0 0 0.12  0 0 0 0 0.22  0 0 0 0 0.36  0 0 0 1.0 -0.4"/><feComposite operator="in" in2="SourceGraphic"/></filter>
<rect x="104.4" y="247.7" width="82.9" height="79.4" fill="#DEDEDC"/>
<rect x="104.4" y="322" width="82.9" height="5.1" fill="#E6E6E4"/>
<g filter="url(#blur1)">
<polygon points="107.1,251.6 181.8,251.2 183.3,320.8 106,321.6" fill="#3A5E84"/>
<polygon points="107.1,251.6 181.8,251.2 182.1,262 107,262" fill="#345A80" opacity="0.7"/>
<polygon points="170,251.2 181.8,251.2 183.3,320.8 172,320.8" fill="#36597E" opacity="0.5"/>
</g>
<polygon points="107.1,251.6 181.8,251.2 183.3,320.8 106,321.6" fill="#fff" filter="url(#denim)"/>
<polygon points="107.1,251.6 181.8,251.2 183.3,320.8 106,321.6" fill="#fff" filter="url(#denim2)"/>
<g filter="url(#blur1)">
<circle cx="114.5" cy="258.7" r="1.9" fill="#26323E" stroke="#6E694F" stroke-width="1.1"/>
<circle cx="173.1" cy="258.3" r="1.9" fill="#26323E" stroke="#6E694F" stroke-width="1.1"/>
<circle cx="114.5" cy="316.9" r="1.9" fill="#26323E" stroke="#6E694F" stroke-width="1.1"/>
<circle cx="177" cy="315.3" r="1.9" fill="#26323E" stroke="#6E694F" stroke-width="1.1"/>
</g></g>
</svg></body></html>
